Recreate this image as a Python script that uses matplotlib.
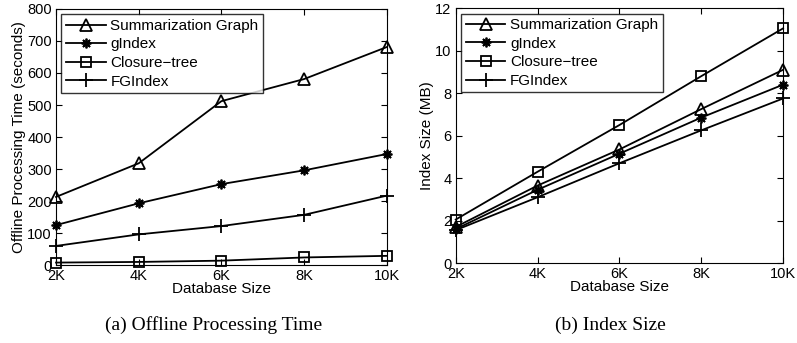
import matplotlib
matplotlib.use("Agg")
import matplotlib.pyplot as plt

sizes = [2, 4, 6, 8, 10]
size_labels = ["2K", "4K", "6K", "8K", "10K"]
series_names = ["Summarization Graph", "gIndex", "Closure\u2212tree", "FGIndex"]

# offline processing time (seconds)
time_sg = [213, 318, 512, 581, 681]
time_gindex = [125, 193, 253, 296, 347]
time_ctree = [8, 10, 14, 24, 29]
time_fg = [60, 96, 122, 157, 217]

# index size (MB)
size_sg = [1.7, 3.65, 5.35, 7.25, 9.1]
size_gindex = [1.6, 3.45, 5.15, 6.85, 8.4]
size_ctree = [2.05, 4.3, 6.5, 8.8, 11.05]
size_fg = [1.55, 3.1, 4.7, 6.25, 7.75]

plt.rcParams["font.family"] = ["Liberation Sans", "DejaVu Sans"]

markers = ["^", (8, 2, 0), "s", "+"]
msizes = [8.5, 7, 7.5, 10]

fig = plt.figure(figsize=(7.97, 3.43), dpi=100)
ax1 = fig.add_axes([0.0703, 0.227, 0.415, 0.747])
ax2 = fig.add_axes([0.5718, 0.233, 0.4107, 0.743])


def draw(ax, data, ylim, yticks, ylabel):
    for vals, name, m, ms in zip(data, series_names, markers, msizes):
        ax.plot(sizes, vals, color="black", linewidth=1.3, marker=m,
                markersize=ms, markerfacecolor="none",
                markeredgecolor="black", markeredgewidth=1.3, label=name,
                clip_on=False, zorder=3)
    ax.set_xlim(2, 10)
    ax.set_ylim(*ylim)
    ax.set_xticks(sizes)
    ax.set_xticklabels(size_labels)
    ax.set_yticks(yticks)
    ax.tick_params(direction="in", top=True, right=True, labelsize=10.5,
                   length=4)
    ax.tick_params(axis="x", pad=3)
    ax.tick_params(axis="y", pad=3)
    ax.set_xlabel("Database Size", fontsize=11, labelpad=-1)
    ax.set_ylabel(ylabel, fontsize=11, labelpad=1)
    leg = ax.legend(loc="upper left", fontsize=11, frameon=True,
                    fancybox=False, edgecolor="black", handlelength=2.6,
                    handletextpad=0.3, borderaxespad=0.35, borderpad=0.3,
                    labelspacing=0.3)
    leg.get_frame().set_linewidth(1.0)
    leg.set_zorder(5)
    for s in ax.spines.values():
        s.set_linewidth(0.8)


draw(ax1, [time_sg, time_gindex, time_ctree, time_fg], (0, 800),
     range(0, 801, 100), "Offline Processing Time (seconds)")
draw(ax2, [size_sg, size_gindex, size_ctree, size_fg], (0, 12),
     range(0, 13, 2), "Index Size (MB)")

fig.text(0.268, 0.052, "(a) Offline Processing Time", ha="center",
         va="center", fontsize=14, family=["Liberation Serif"])
fig.text(0.766, 0.052, "(b) Index Size", ha="center", va="center",
         fontsize=14, family=["Liberation Serif"])

fig.savefig("out.png", dpi=100)
